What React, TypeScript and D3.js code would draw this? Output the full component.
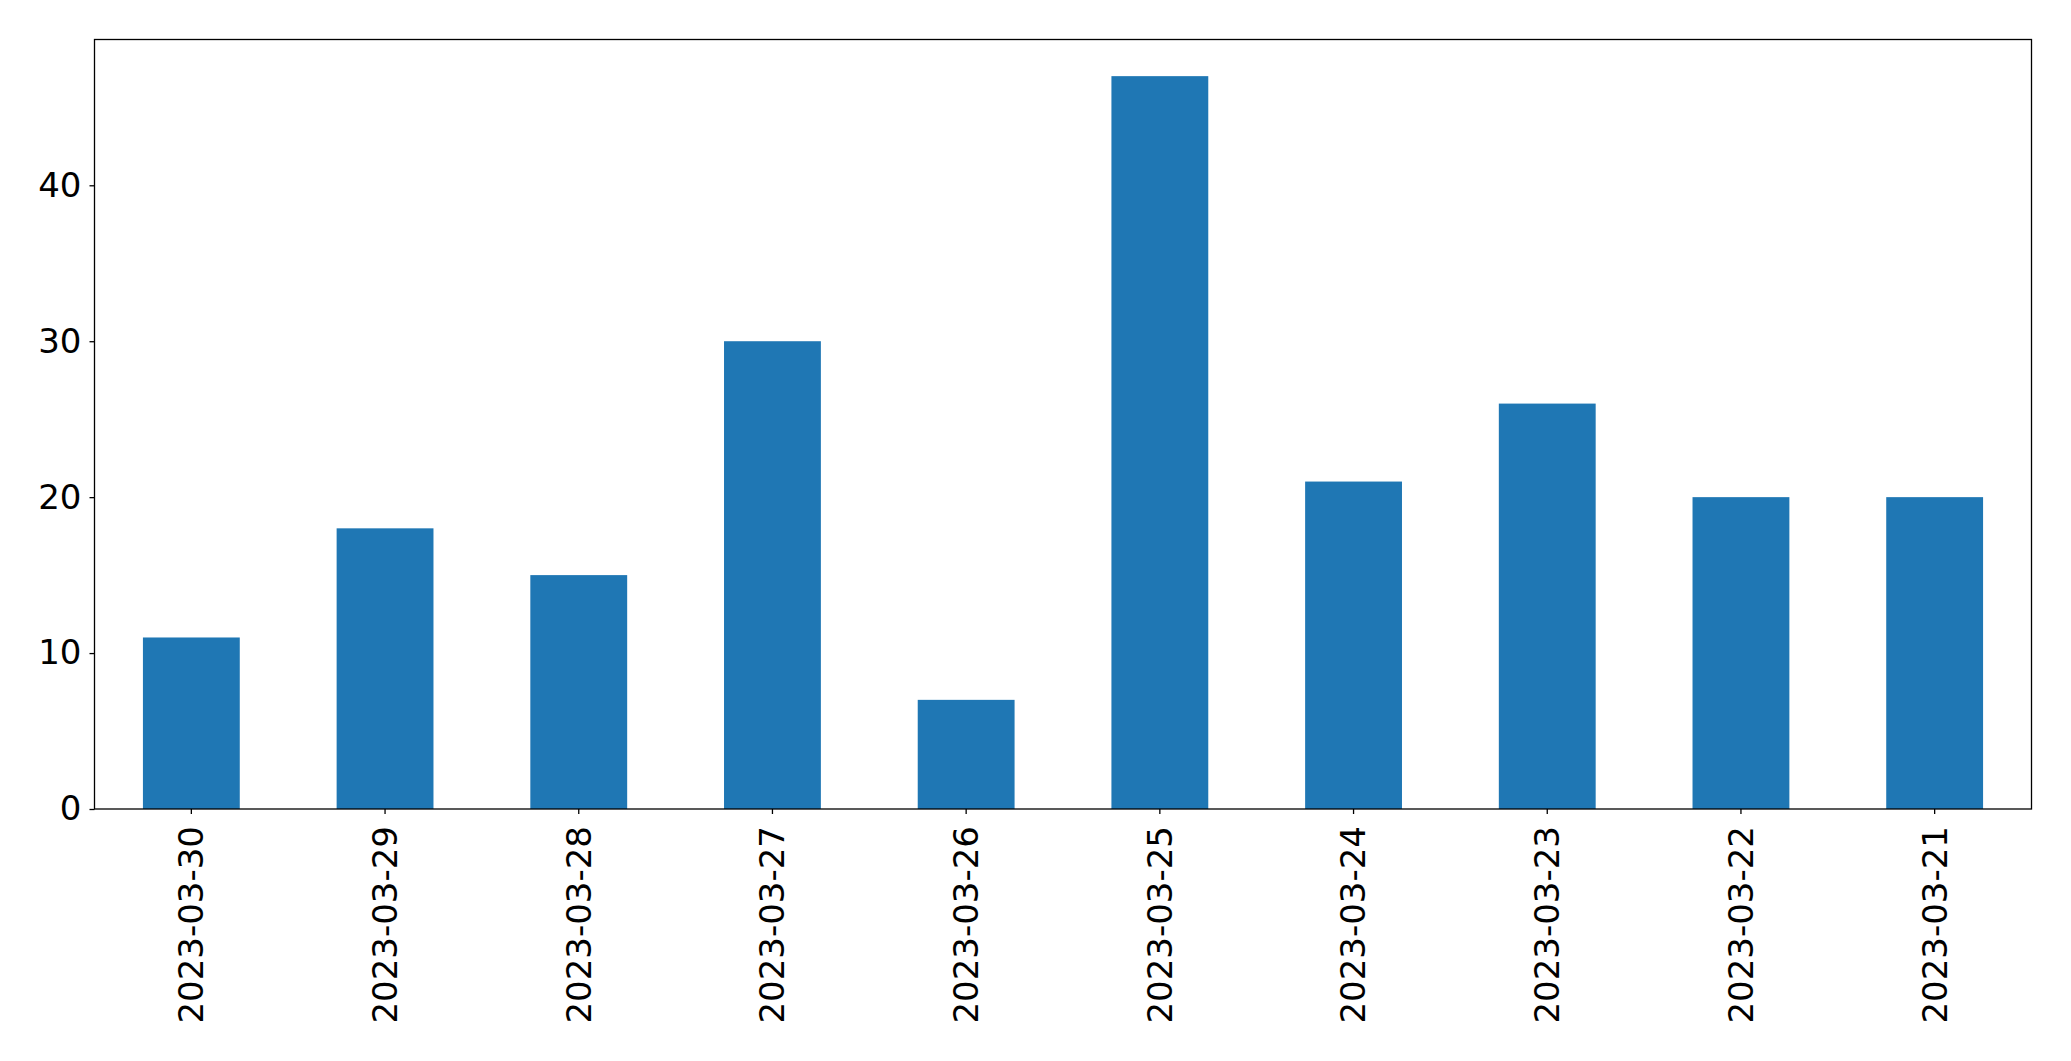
import { ScaleBand, ScaleLinear, axisBottom, axisLeft, scaleBand, scaleLinear, select } from "d3";
import { useEffect, useRef } from "react";

const dates = [
  "2023-03-30",
  "2023-03-29",
  "2023-03-28",
  "2023-03-27",
  "2023-03-26",
  "2023-03-25",
  "2023-03-24",
  "2023-03-23",
  "2023-03-22",
  "2023-03-21",
];
const counts = [11, 18, 15, 30, 7, 47, 21, 26, 20, 20];
const yTicks = [0, 10, 20, 30, 40];

const FONT = "'DejaVu Sans', sans-serif";

function XAxis({ scale, transform }: { scale: ScaleBand<string>; transform: string }) {
  const ref = useRef<SVGGElement>(null);
  useEffect(() => {
    if (!ref.current) return;
    const g = select(ref.current);
    g.call(axisBottom(scale).tickSize(5).tickPadding(12));
    g.select(".domain").remove();
    g.selectAll(".tick line").attr("stroke", "#000").attr("stroke-width", 1.3);
    g.selectAll(".tick text")
      .attr("transform", "rotate(-90)")
      .attr("text-anchor", "end")
      .attr("x", -17)
      .attr("y", 0)
      .attr("dy", "0.35em")
      .attr("fill", "#000")
      .style("font-family", FONT)
      .style("font-size", "34px");
  }, [scale]);
  return <g ref={ref} transform={transform} />;
}

function YAxis({ scale }: { scale: ScaleLinear<number, number, never> }) {
  const ref = useRef<SVGGElement>(null);
  useEffect(() => {
    if (!ref.current) return;
    const g = select(ref.current);
    g.call(axisLeft(scale).tickValues(yTicks).tickSize(5).tickPadding(8));
    g.select(".domain").remove();
    g.selectAll(".tick line").attr("stroke", "#000").attr("stroke-width", 1.3);
    g.selectAll(".tick text")
      .attr("fill", "#000")
      .style("font-family", FONT)
      .style("font-size", "34px");
  }, [scale]);
  return <g ref={ref} />;
}

export default function App() {
  const W = 2071;
  const H = 1061;
  const margin = { top: 39.5, right: 39.5, bottom: 252, left: 94.5 };
  const width = W - margin.left - margin.right;
  const height = H - margin.top - margin.bottom;

  const x = scaleBand().domain(dates).range([0, width]).paddingInner(0.5).paddingOuter(0.25);
  const y = scaleLinear().domain([0, 47 * 1.05]).range([height, 0]);

  return (
    <svg width={W} height={H} style={{ position: "absolute", left: 0, top: 0, background: "#fff" }}>
      <g transform={`translate(${margin.left},${margin.top})`}>
        {dates.map((d, i) => (
          <rect
            key={d}
            x={x(d)}
            y={y(counts[i])}
            width={x.bandwidth()}
            height={height - y(counts[i])}
            fill="#1f77b4"
          />
        ))}
        <rect x={0} y={0} width={width} height={height} fill="none" stroke="#000" strokeWidth={1.3} />
        <YAxis scale={y} />
        <XAxis scale={x} transform={`translate(0,${height})`} />
      </g>
    </svg>
  );
}
